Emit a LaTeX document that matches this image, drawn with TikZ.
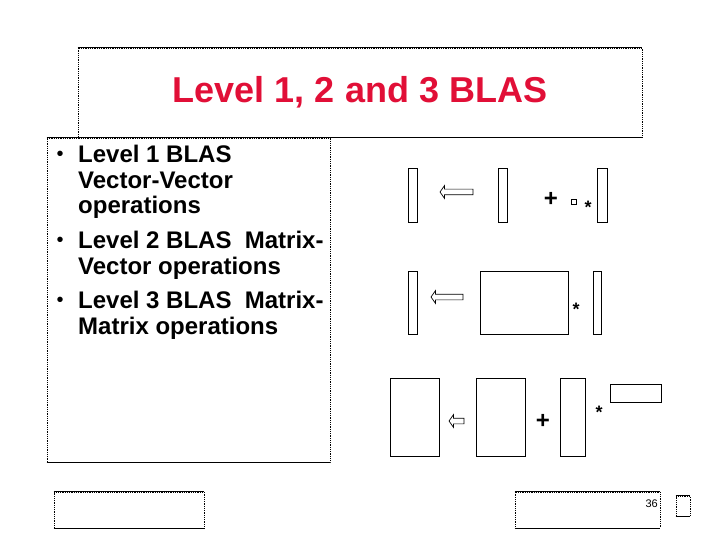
\documentclass[tikz,border=0pt]{standalone}
\usepackage{fontspec}
\setmainfont{Liberation Sans}
\usepackage{tikz}
\usetikzlibrary{shapes.arrows}
\definecolor{titlered}{RGB}{225, 15, 55}

\tikzset{
  frame/.style={draw=black, densely dotted, line width=0.8pt, inner sep=0pt},
  block/.style={draw=black, line width=0.9pt, inner sep=0pt},
  hollowarrow/.style={draw=black, line width=0.7pt, single arrow, shape border rotate=180,
    inner xsep=0pt, inner ysep=2.5pt, single arrow head extend=3.5pt,
    single arrow tip angle=110},
  op/.style={inner sep=0pt, font=\bfseries}
}

\begin{document}
\begin{tikzpicture}[x=1pt, y=-1pt]
\useasboundingbox (0,0) rectangle (720,540);

% Frames (dotted sides, solid top and bottom)
\node[frame, minimum width=564, minimum height=89] (titlebox) at (360,92.5) {};
\node[frame, minimum width=283, minimum height=324] (textbox) at (188.5,300) {};
\node[frame, minimum width=150, minimum height=36] (footleft) at (129,510) {};
\node[frame, minimum width=145, minimum height=36] (footright) at (587.5,510) {};
\node[frame, minimum width=14, minimum height=20] (corner) at (683,506) {};
\foreach \b in {titlebox,textbox,footleft,footright,corner} {
  \draw[line width=0.9pt] (\b.north west) -- (\b.north east);
  \draw[line width=0.9pt] (\b.south west) -- (\b.south east);
}

% Title
\node[text=titlered, font=\fontsize{36}{40}\selectfont\bfseries] (title) at (360,92) {Level 1, 2 and 3 BLAS};

% Bullets
\begin{scope}[every node/.style={anchor=north west, align=left, inner sep=0pt,
    font=\fontsize{24}{25.5}\selectfont\bfseries}]
  \node (item1) at (78,145) {Level 1 BLAS\\Vector-Vector\\operations};
  \node (item2) at (78,231) {Level 2 BLAS~ Matrix-\\Vector operations};
  \node (item3) at (78,291) {Level 3 BLAS~ Matrix-\\Matrix operations};
\end{scope}
\foreach \i/\y in {1/156,2/242,3/302}
  \node[inner sep=0pt, font=\fontsize{20}{20}\selectfont] (dot\i) at (60,\y) {•};

% Level 1: vector-vector
\node[block, minimum width=9, minimum height=54] (y1) at (412.5,195) {};
\node[hollowarrow, minimum height=33] (get1) at (457.5,192) {};
\node[block, minimum width=9, minimum height=54] (x1) at (502.5,195) {};
\node[op, font=\fontsize{24}{24}\selectfont\bfseries] (plus1) at (551,199) {+};
\node[block, line width=0.6pt, minimum width=5, minimum height=5] (alpha1) at (573.5,201.5) {};
\node[op, font=\fontsize{18}{18}\selectfont\bfseries] (times1) at (588,207) {*};
\node[block, minimum width=10, minimum height=54] (z1) at (602,195) {};

% Level 2: matrix-vector
\node[block, minimum width=9, minimum height=63] (y2) at (412.5,302.5) {};
\node[hollowarrow, minimum height=32] (get2) at (448,297) {};
\node[block, minimum width=88, minimum height=63] (a2) at (524,302.5) {};
\node[op, font=\fontsize{18}{18}\selectfont\bfseries] (times2) at (576,309) {*};
\node[block, minimum width=8, minimum height=63] (x2) at (597,302.5) {};

% Level 3: matrix-matrix
\node[block, minimum width=49, minimum height=78] (c3) at (414.5,417) {};
\node[hollowarrow, minimum height=15] (get3) at (457.5,421) {};
\node[block, minimum width=49, minimum height=78] (d3) at (500.5,417) {};
\node[op, font=\fontsize{24}{24}\selectfont\bfseries] (plus3) at (543,421) {+};
\node[block, minimum width=25, minimum height=78] (a3) at (572.5,417) {};
\node[op, font=\fontsize{18}{18}\selectfont\bfseries] (times3) at (599,412) {*};
\node[block, minimum width=51, minimum height=18] (b3) at (635.5,393) {};

% Page number
\node[anchor=east, inner sep=0pt, font=\fontsize{11}{11}\selectfont] (page) at (658,504) {36};
\end{tikzpicture}
\end{document}
